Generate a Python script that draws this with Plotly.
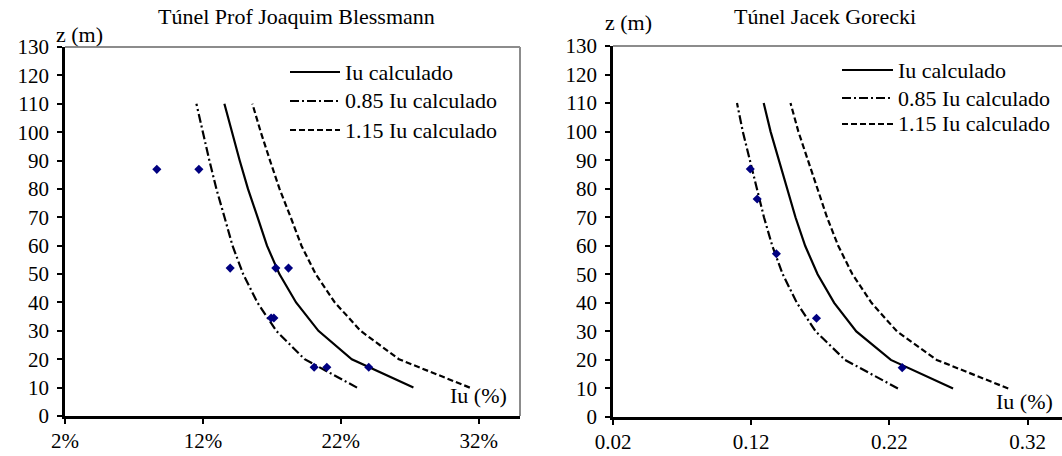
import plotly.graph_objects as go

W, H = 1062, 456
FONT = "Liberation Serif"
FS_TICK = 21
FS_TEXT = 22

# Alturas onde o perfil calculado é avaliado
z_calc = [10, 20, 30, 40, 50, 60, 70, 80, 90, 100, 110]

# Túnel Prof Joaquim Blessmann (Iu em %)
iu_bless = [27.27, 22.80, 20.38, 18.76, 17.55, 16.65, 15.97, 15.27, 14.67, 14.09, 13.56]
iu_bless_085 = [23.18, 19.38, 17.32, 15.95, 14.92, 14.15, 13.57, 12.98, 12.47, 11.98, 11.53]
iu_bless_115 = [31.36, 26.22, 23.44, 21.57, 20.18, 19.15, 18.37, 17.56, 16.87, 16.20, 15.59]
z_med_bless = [86.9, 86.9, 52.1, 52.1, 52.1, 34.5, 34.5, 17.2, 17.2, 17.2]
iu_med_bless = [8.66, 11.71, 13.98, 17.29, 18.21, 16.95, 17.15, 20.07, 20.99, 24.03]
ticks_bless = [2, 12, 22, 32]
ticktext_bless = ["2%", "12%", "22%", "32%"]

# Túnel Jacek Gorecki (Iu como fração)
iu_gor = [0.266, 0.221, 0.196, 0.180, 0.168, 0.159, 0.152, 0.146, 0.140, 0.134, 0.129]
iu_gor_085 = [0.2261, 0.1879, 0.1666, 0.1530, 0.1428, 0.1352, 0.1292, 0.1241, 0.1190, 0.1139, 0.1097]
iu_gor_115 = [0.3059, 0.2542, 0.2254, 0.2070, 0.1932, 0.1829, 0.1748, 0.1679, 0.1610, 0.1541, 0.1484]
z_med_gor = [86.9, 76.4, 57.2, 34.6, 17.3]
iu_med_gor = [0.1193, 0.1243, 0.1382, 0.1672, 0.2292]
ticks_gor = [0.02, 0.12, 0.22, 0.32]
ticktext_gor = ["0.02", "0.12", "0.22", "0.32"]

z_ticks = list(range(0, 131, 10))

series_names = ["Iu calculado", "0.85 Iu calculado", "1.15 Iu calculado"]
dash_styles = ["solid", "9px,3px,2px,3px", "6px,3px"]


def px_x(p):
    return p / W


def px_y(p):
    return 1 - p / H


fig = go.Figure()

panels = [
    ("x", "y", [iu_bless, iu_bless_085, iu_bless_115], iu_med_bless, z_med_bless),
    ("x2", "y2", [iu_gor, iu_gor_085, iu_gor_115], iu_med_gor, z_med_gor),
]
for xa, ya, curves, mx, mz in panels:
    for name, dash, xs in zip(series_names, dash_styles, curves):
        fig.add_trace(go.Scatter(
            x=xs, y=z_calc, mode="lines", name=name, showlegend=False,
            line=dict(color="black", width=2.2, dash=dash),
            xaxis=xa, yaxis=ya,
        ))
    fig.add_trace(go.Scatter(
        x=mx, y=mz, mode="markers", showlegend=False,
        marker=dict(symbol="diamond", size=7, color="#000080"),
        xaxis=xa, yaxis=ya,
    ))

axis_common = dict(
    showline=True, linecolor="black", linewidth=2.5,
    ticks="outside", ticklen=5, tickwidth=2, tickcolor="black",
    showgrid=False, zeroline=False,
    tickfont=dict(family=FONT, size=FS_TICK, color="black"),
)

fig.update_layout(
    width=W, height=H,
    margin=dict(l=0, r=0, t=0, b=0, autoexpand=False),
    paper_bgcolor="white", plot_bgcolor="white",
    font=dict(family=FONT, size=FS_TEXT, color="black"),
    showlegend=False,
    xaxis=dict(domain=[px_x(65), px_x(520)], range=[2, 35], tickvals=ticks_bless,
               ticktext=ticktext_bless, anchor="y", ticklabelstandoff=-1, **axis_common),
    yaxis=dict(domain=[px_y(416), px_y(47)], range=[0, 130], tickvals=z_ticks,
               anchor="x", ticklabelstandoff=4, **axis_common),
    xaxis2=dict(domain=[px_x(613), 1.0], range=[0.02, 0.3448], tickvals=ticks_gor,
                ticktext=ticktext_gor, anchor="y2", ticklabelstandoff=-1, **axis_common),
    yaxis2=dict(domain=[px_y(417), px_y(46)], range=[0, 130], tickvals=z_ticks,
                anchor="x2", ticklabelstandoff=4, **axis_common),
)

# Bordas cinzentas da área de plotagem
border = dict(color="#8c8c8c", width=2)
fig.add_shape(type="line", xref="paper", yref="paper",
              x0=px_x(65), x1=px_x(520), y0=px_y(47), y1=px_y(47), line=border)
fig.add_shape(type="line", xref="paper", yref="paper",
              x0=px_x(520), x1=px_x(520), y0=px_y(47), y1=px_y(416), line=border)
fig.add_shape(type="line", xref="paper", yref="paper",
              x0=px_x(613), x1=1.0, y0=px_y(46), y1=px_y(46), line=border)

# Legendas desenhadas à mão (amostra de linha + texto)
legend_blocks = [
    (290, 340, 343, [72, 101, 130]),
    (842, 893, 896, [70, 98, 124]),
]
for x0, x1, xt, rows in legend_blocks:
    for name, dash, yy in zip(series_names, dash_styles, rows):
        fig.add_shape(type="line", xref="paper", yref="paper",
                      x0=px_x(x0), x1=px_x(x1), y0=px_y(yy), y1=px_y(yy),
                      line=dict(color="black", width=2.2, dash=dash))
        fig.add_annotation(text=name, x=px_x(xt), y=px_y(yy), xref="paper", yref="paper",
                           showarrow=False, xanchor="left", yanchor="middle",
                           font=dict(family=FONT, size=FS_TEXT, color="black"))

labels = [
    ("Túnel Prof Joaquim Blessmann", 296, 17),
    ("z (m)", 79, 35),
    ("Iu (%)", 478, 395),
    ("Túnel Jacek Gorecki", 825, 17),
    ("z (m)", 628, 22),
    ("Iu (%)", 1024, 401),
]
for text, cx, cy in labels:
    fig.add_annotation(text=text, x=px_x(cx), y=px_y(cy), xref="paper", yref="paper",
                       showarrow=False, xanchor="center", yanchor="middle",
                       font=dict(family=FONT, size=FS_TEXT, color="black"))

fig.write_html("out.html")
